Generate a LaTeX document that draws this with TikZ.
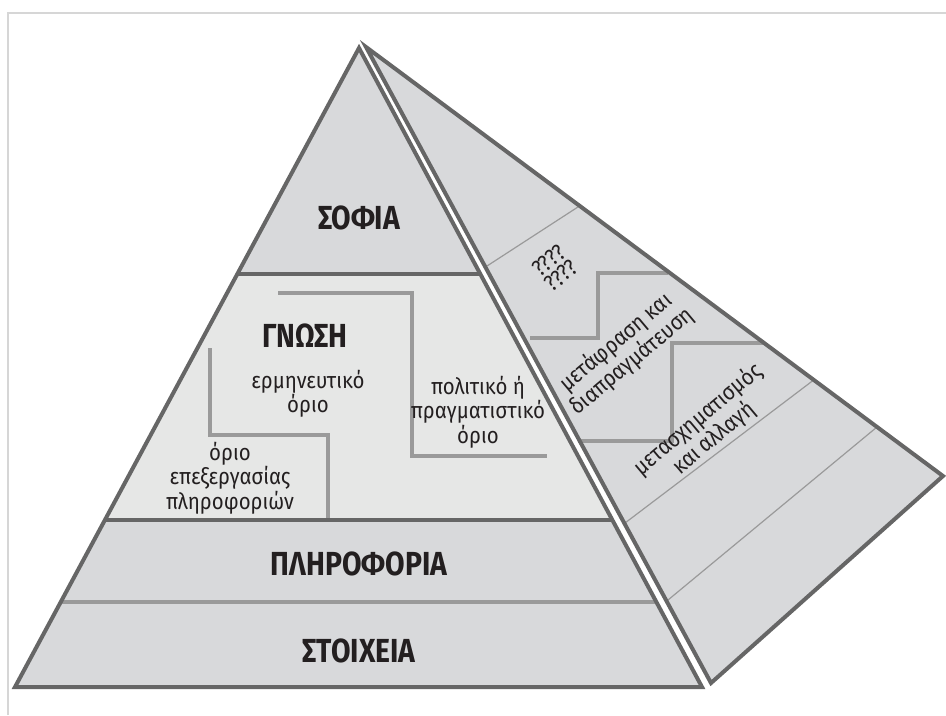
\documentclass[tikz,border=0pt]{standalone}
\usepackage{fontspec}
\setmainfont{Fira Sans}[FakeStretch=0.85]
\newfontfamily\notefont{Fira Sans}[FakeStretch=0.9]

\definecolor{layergray}{RGB}{216,217,219}
\definecolor{knowgray}{RGB}{230,231,230}
\definecolor{edgegray}{RGB}{102,102,102}
\definecolor{limitgray}{RGB}{154,154,154}
\definecolor{framegray}{RGB}{214,214,214}
\definecolor{inkgray}{RGB}{35,31,32}

\tikzset{
  edge/.style={draw=edgegray, line width=3pt},
  limit/.style={draw=limitgray, line width=2.3pt},
  stripe/.style={draw=limitgray, line width=0.9pt},
  level/.style={font=\bfseries\fontsize{25}{28}\selectfont, text=inkgray},
  note/.style={font=\notefont\fontsize{17}{14.5}\selectfont, align=center, text=inkgray}
}

\begin{document}
\begin{tikzpicture}[x=0.75pt,y=-0.75pt]
\useasboundingbox (0,0) rectangle (946,715);
\draw[framegray, line width=1.5pt] (8,715) -- (8,13) -- (946,13);
% corners of the two faces
\coordinate (top) at (359,48);
\coordinate (bl) at (15,687);
\coordinate (br) at (702,687);
\coordinate (rtop) at (366,47);
\coordinate (rtip) at (943,476);
\coordinate (rbot) at (711,683);
\path (top) -- (bl) coordinate[pos=0.353] (l1) coordinate[pos=0.739] (l2) coordinate[pos=0.867] (l3);
\path (top) -- (br) coordinate[pos=0.353] (r1) coordinate[pos=0.739] (r2) coordinate[pos=0.867] (r3);
% side face
\fill[layergray] (rtop) -- (rtip) -- (rbot) -- cycle;
\draw[stripe] (487,266) -- (581,205);
\draw[stripe] (625,523) -- (815,379);
\draw[stripe] (668,600) -- (877,427);
\draw[limit] (530,338) -- (598,338) -- (598,273) -- (668,273);
\draw[limit] (578,441) -- (672,441) -- (672,343) -- (764,343);
\draw[edge] (rtop) -- (rtip) -- (rbot) -- cycle;
% front face
\fill[layergray] (top) -- (l1) -- (r1) -- cycle;
\fill[knowgray] (l1) -- (l2) -- (r2) -- (r1) -- cycle;
\fill[layergray] (l2) -- (bl) -- (br) -- (r2) -- cycle;
\draw[limit] (210,348) -- (210,435) -- (328,435) -- (328,521);
\draw[limit] (278,293) -- (412,293) -- (412,456) -- (547,456);
\draw[limit, line width=3pt] (l3) -- (r3);
\draw[edge] (l1) -- (r1);
\draw[edge] (l2) -- (r2);
\draw[edge] (top) -- (bl) -- (br) -- cycle;
% labels
\node[level] (sofia) at (359,218) {ΣΟΦΙΑ};
\node[level] (gnosi) at (305,336) {ΓΝΩΣΗ};
\node[level] (info) at (359,564) {ΠΛΗΡΟΦΟΡΙΑ};
\node[level] (data) at (359,651) {ΣΤΟΙΧΕΙΑ};
\node[note] (herm) at (308,394) {ερμηνευτικό\\όριο};
\node[note] (polit) at (478,412) {πολιτικό ή\\πραγματιστικό\\όριο};
\node[note] (proc) at (230,478) {όριο\\επεξεργασίας\\πληροφοριών};
\node[note, rotate=40] (quest) at (555,268) {????\\????};
\node[note, rotate=40] (transl) at (624,352) {μετάφραση και\\διαπραγμάτευση};
\node[note, rotate=40] (change) at (706,429) {μετασχηματισμός\\και αλλαγή};
\end{tikzpicture}
\end{document}
